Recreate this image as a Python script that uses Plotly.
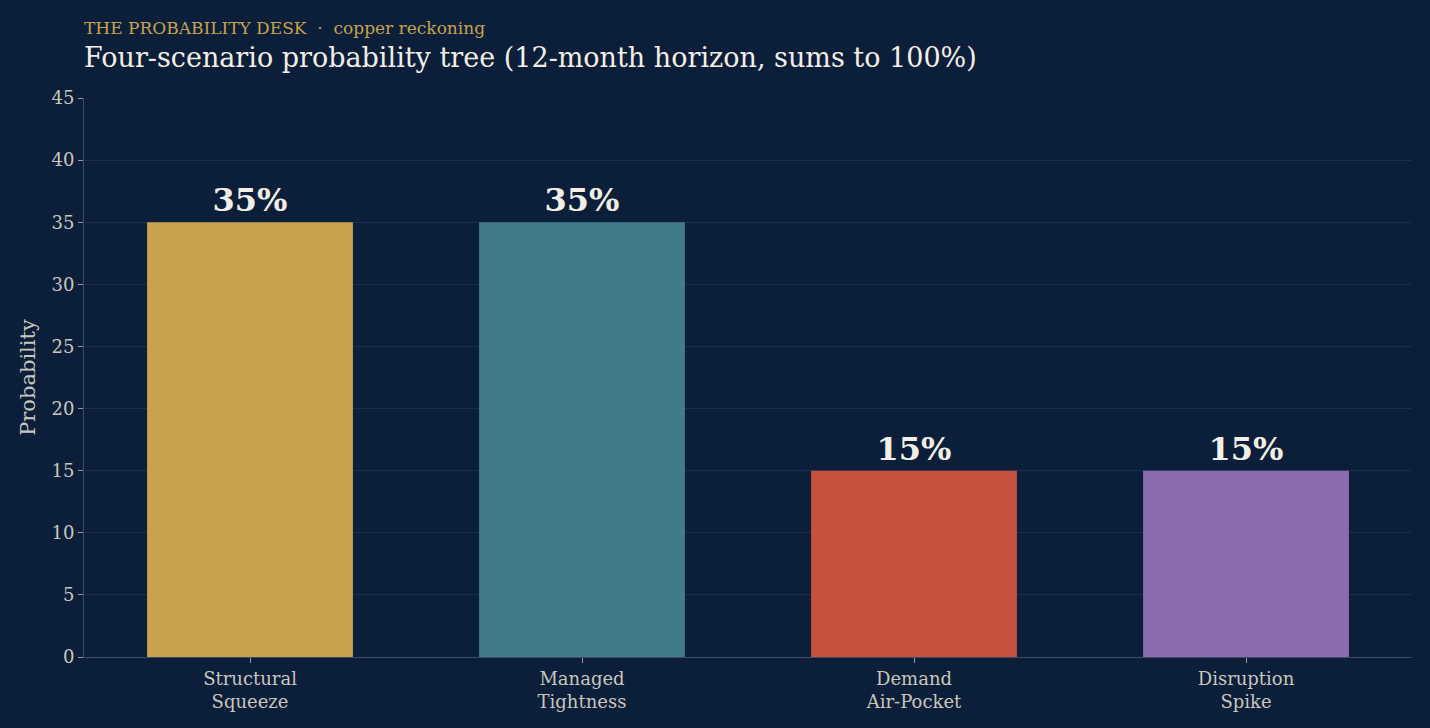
import plotly.graph_objects as go

categories = ["Structural<br>Squeeze", "Managed<br>Tightness", "Demand<br>Air-Pocket", "Disruption<br>Spike"]
probabilities = [35, 35, 15, 15]
labels = ["35%", "35%", "15%", "15%"]
colors = ["#c9a24d", "#417b8b", "#c4523d", "#8b6caf"]

BG = "#0b1f3a"
FONT = "DejaVu Serif"

fig = go.Figure(go.Bar(
    x=categories, y=probabilities, text=labels, textposition="outside",
    marker=dict(color=colors, line=dict(width=0)),
    textfont=dict(family=FONT, size=32, color="#f3efe6", weight="bold"),
    cliponaxis=False,
))

fig.update_layout(
    width=1430, height=728,
    paper_bgcolor=BG, plot_bgcolor=BG,
    margin=dict(l=84, r=18, t=98, b=71),
    bargap=0.38,
    showlegend=False,
    font=dict(family=FONT, color="#c9c6bd", size=18),
    xaxis=dict(showgrid=False, showline=True, linecolor="#3b4c68", linewidth=1,
               ticks="outside", ticklen=5, tickcolor="#9a9a9a",
               tickfont=dict(family=FONT, size=18, color="#c9c6bd")),
    yaxis=dict(range=[0, 45], dtick=5, showgrid=True, gridcolor="#1b2e4b", gridwidth=1,
               showline=True, linecolor="#3b4c68", linewidth=1, zeroline=False,
               ticks="outside", ticklen=5, tickcolor="#9a9a9a",
               tickfont=dict(family=FONT, size=18, color="#c9c6bd"),
               title=dict(text="Probability", font=dict(family=FONT, size=21, color="#c9c6bd"), standoff=10)),
    annotations=[
        dict(text="THE PROBABILITY DESK  ·  copper reckoning", xref="paper", yref="paper",
             x=0, y=1, xanchor="left", yanchor="bottom", yshift=58, xshift=-2, showarrow=False,
             font=dict(family=FONT, size=17, color="#c9a24d")),
        dict(text="Four-scenario probability tree (12-month horizon, sums to 100%)", xref="paper", yref="paper",
             x=0, y=1, xanchor="left", yanchor="bottom", yshift=23, xshift=-2, showarrow=False,
             font=dict(family=FONT, size=27, color="#f3efe6")),
    ],
)

fig.write_html("out.html")
